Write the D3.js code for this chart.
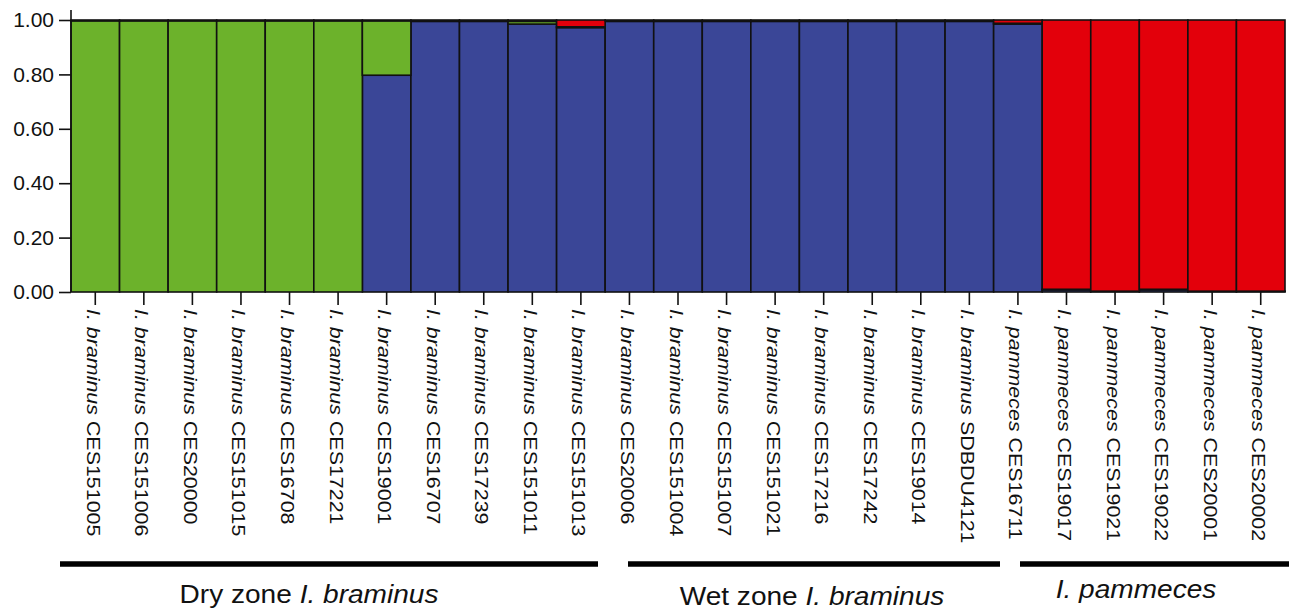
<!DOCTYPE html>
<html>
<head>
<meta charset="utf-8">
<script src="https://cdn.jsdelivr.net/npm/d3@7"></script>
<style>
    body { margin: 0; background: #fff; }
    svg { display: block; font-family: "Liberation Sans", Arial, sans-serif; }
</style>
</head>
<body>
<script>
    // sample names (species part in italics, code upright)
    var species = ["I. braminus", "I. braminus", "I. braminus", "I. braminus", "I. braminus", "I. braminus",
                   "I. braminus", "I. braminus", "I. braminus", "I. braminus", "I. braminus",
                   "I. braminus", "I. braminus", "I. braminus", "I. braminus", "I. braminus", "I. braminus", "I. braminus",
                   "I. braminus", "I. pammeces", "I. pammeces", "I. pammeces", "I. pammeces", "I. pammeces", "I. pammeces"];
    var codes = ["CES151005", "CES151006", "CES20000", "CES151015", "CES16708", "CES17221",
                 "CES19001", "CES16707", "CES17239", "CES151011", "CES151013",
                 "CES20006", "CES151004", "CES151007", "CES151021", "CES17216", "CES17242", "CES19014",
                 "SDBDU4121", "CES16711", "CES19017", "CES19021", "CES19022", "CES20001", "CES20002"];

    // membership proportions, stacked bottom -> top: blue, green, red
    var blue  = [0.000, 0.000, 0.000, 0.000, 0.000, 0.000,
                 0.797, 0.995, 0.995, 0.985, 0.972,
                 0.995, 0.995, 0.995, 0.995, 0.995, 0.995, 0.995,
                 0.995, 0.985, 0.008, 0.002, 0.008, 0.002, 0.002];
    var green = [0.997, 0.997, 0.997, 0.997, 0.997, 0.997,
                 0.200, 0.002, 0.002, 0.010, 0.003,
                 0.002, 0.002, 0.002, 0.002, 0.002, 0.002, 0.002,
                 0.002, 0.003, 0.002, 0.001, 0.002, 0.001, 0.001];
    var red   = [0.003, 0.003, 0.003, 0.003, 0.003, 0.003,
                 0.003, 0.003, 0.003, 0.005, 0.025,
                 0.003, 0.003, 0.003, 0.003, 0.003, 0.003, 0.003,
                 0.003, 0.012, 0.990, 0.997, 0.990, 0.997, 0.997];

    var yTicks = [0, 0.2, 0.4, 0.6, 0.8, 1.0];

    // group bars under the labels
    var groups = [
        {pre: "Dry zone ", it: "I. braminus", x0: 60, x1: 598, tx: 309, ty: 603},
        {pre: "Wet zone ", it: "I. braminus", x0: 628, x1: 1000, tx: 812, ty: 605},
        {pre: "", it: "I. pammeces", x0: 1020, x1: 1289, tx: 1136, ty: 598}
    ];

    var colors = {blue: "#3a4697", green: "#6cb22b", red: "#e3000b"};

    var W = 1289, H = 611;
    var svg = d3.select("body").append("svg").attr("width", W).attr("height", H);

    var xScale = d3.scaleBand().domain(codes).range([71, 1285]).padding(0);
    var yScale = d3.scaleLinear().domain([0, 1]).range([292, 20]);

    var rows = codes.map(function(c, i) {
        return {code: c, blue: blue[i], green: green[i], red: red[i]};
    });
    var stack = d3.stack().keys(["blue", "green", "red"])(rows);

    svg.append("g")
        .selectAll("g")
        .data(stack)
        .enter()
        .append("g")
        .attr("fill", function(d) { return colors[d.key]; })
        .selectAll("rect")
        .data(function(d) { return d; })
        .enter()
        .append("rect")
        .attr("x", function(d) { return xScale(d.data.code); })
        .attr("y", function(d) { return yScale(d[1]); })
        .attr("width", xScale.bandwidth())
        .attr("height", function(d) { return yScale(d[0]) - yScale(d[1]); })
        .attr("stroke", "#111")
        .attr("stroke-width", 1.6);

    // y axis
    var yAxis = svg.append("g")
        .attr("transform", "translate(71,0)")
        .call(d3.axisLeft(yScale).tickValues(yTicks).tickFormat(d3.format(".2f")).tickSize(12).tickSizeOuter(0).tickPadding(5));
    yAxis.select(".domain").remove();
    yAxis.append("line")
        .attr("x1", 0).attr("x2", 0)
        .attr("y1", 10).attr("y2", 292)
        .attr("stroke", "#111").attr("stroke-width", 1.6);
    yAxis.selectAll("line").attr("stroke", "#111").attr("stroke-width", 1.6);
    yAxis.selectAll("text")
        .style("font-size", "21px")
        .style("font-family", "'Liberation Sans', Arial, sans-serif")
        .attr("fill", "#111");

    // x axis ticks + rotated labels
    var xAxis = svg.append("g")
        .attr("transform", "translate(0,292)")
        .call(d3.axisBottom(xScale).tickSize(13).tickSizeOuter(0).tickFormat(""));
    xAxis.select(".domain").remove();
    xAxis.selectAll("line").attr("stroke", "#111").attr("stroke-width", 1.6);

    var labels = svg.append("g").attr("class", "xlabels")
        .selectAll("text")
        .data(codes)
        .enter()
        .append("text")
        .attr("transform", function(d) {
            var cx = xScale(d) + xScale.bandwidth() / 2 - 2;
            return "translate(" + cx + ",309) rotate(90) scale(1.02,0.88)";
        })
        .attr("dy", "0.35em")
        .attr("text-anchor", "start")
        .style("font-size", "21px")
        .attr("fill", "#111");
    labels.append("tspan")
        .style("font-style", "italic")
        .text(function(d, i) { return species[i] + " "; });
    labels.append("tspan")
        .text(function(d) { return d; });

    // group lines and captions
    var g = svg.append("g");
    g.selectAll("line")
        .data(groups)
        .enter()
        .append("line")
        .attr("x1", function(d) { return d.x0; })
        .attr("x2", function(d) { return d.x1; })
        .attr("y1", 564).attr("y2", 564)
        .attr("stroke", "#000")
        .attr("stroke-width", 5.5);

    var cap = g.selectAll("text")
        .data(groups)
        .enter()
        .append("text")
        .attr("transform", function(d) {
            return "translate(" + d.tx + "," + d.ty + ") scale(1.08,1)";
        })
        .attr("text-anchor", "middle")
        .style("font-size", "26px")
        .attr("fill", "#111");
    cap.append("tspan").text(function(d) { return d.pre; });
    cap.append("tspan").style("font-style", "italic").text(function(d) { return d.it; });
</script>
</body>
</html>
